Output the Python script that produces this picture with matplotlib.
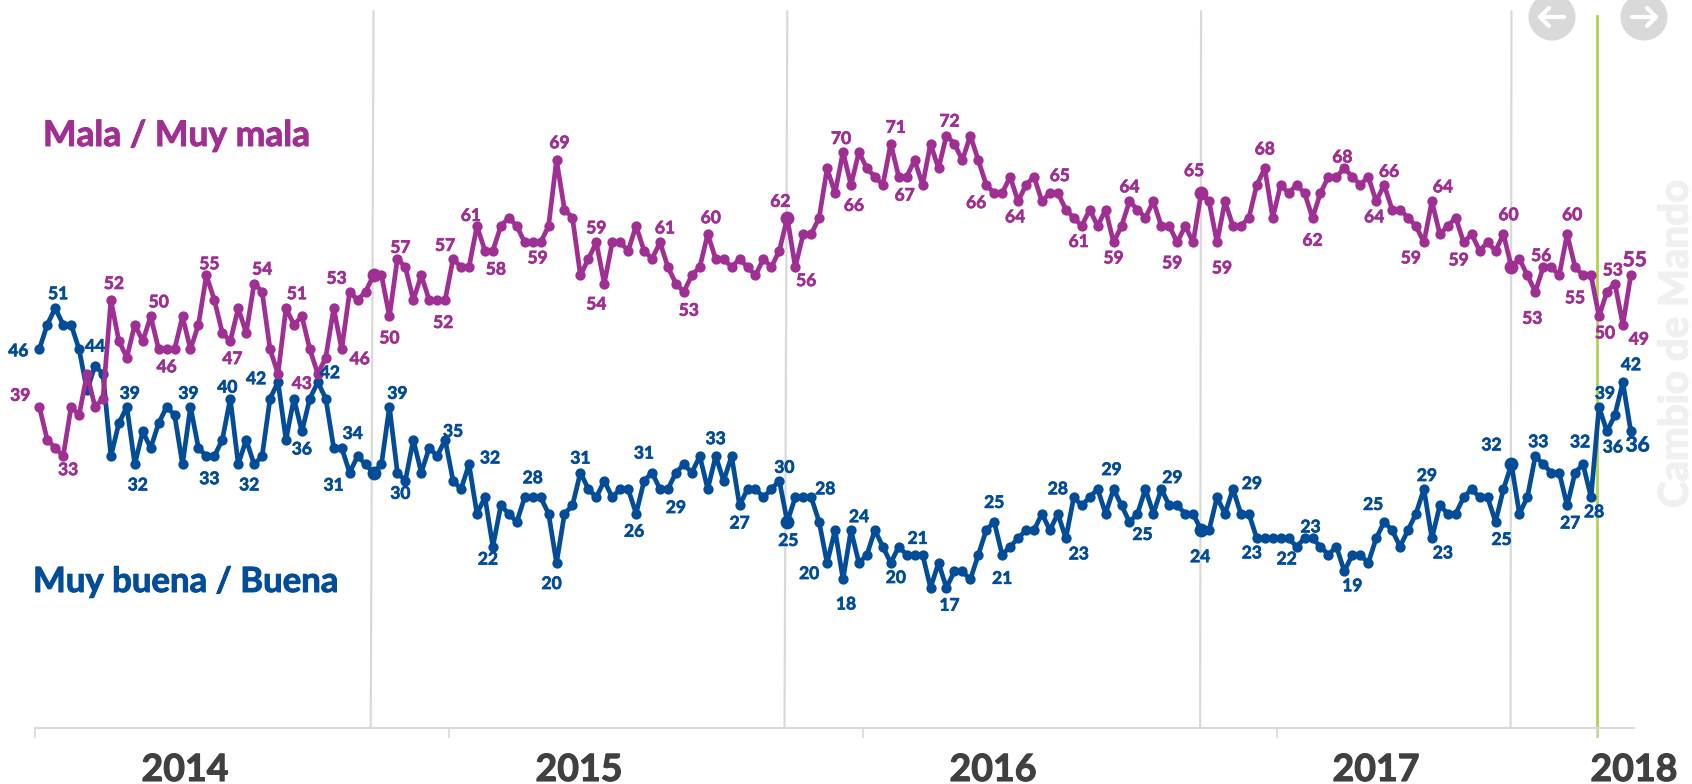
import matplotlib
matplotlib.use('Agg')
import matplotlib.pyplot as plt
import matplotlib.patheffects as pe
from matplotlib.patches import Circle

plt.rcParams['font.family'] = ['Lato', 'DejaVu Sans']

# Weekly values
mala = [39, 35, 34, 33, 39, 38, 43, 39, 40, 52, 47, 45, 49, 47, 50, 46, 46, 46, 50, 46,
        49, 55, 52, 48, 47, 51, 48, 54, 53, 46, 43, 51, 49, 50, 46, 43, 45, 51, 46, 53,
        52, 53, 55, 55, 50, 57, 56, 52, 55, 52, 52, 52, 57, 56, 56, 61, 58, 58, 61, 62,
        61, 59, 59, 59, 61, 69, 63, 62, 55, 57, 59, 54, 59, 59, 58, 61, 58, 57, 59, 56,
        54, 53, 55, 56, 60, 57, 57, 56, 57, 56, 55, 57, 56, 58, 62, 56, 60, 60, 62, 68,
        65, 70, 66, 70, 68, 67, 66, 71, 67, 67, 69, 66, 71, 68, 72, 71, 69, 72, 69, 66,
        65, 65, 67, 64, 66, 67, 64, 65, 65, 63, 62, 61, 63, 61, 63, 59, 61, 64, 63, 62,
        64, 61, 61, 59, 61, 59, 65, 64, 59, 64, 61, 61, 62, 66, 68, 62, 66, 65, 66, 65,
        62, 65, 67, 67, 68, 67, 66, 67, 64, 66, 63, 63, 62, 61, 59, 64, 60, 61, 62, 59,
        60, 58, 59, 58, 60, 56, 57, 55, 53, 56, 56, 55, 60, 56, 55, 55, 50, 53, 54, 49, 55]

buena = [46, 49, 51, 49, 49, 46, 41, 44, 43, 33, 37, 39, 32, 36, 34, 37, 39, 38, 32, 39,
         34, 33, 33, 35, 40, 32, 35, 32, 33, 40, 42, 35, 40, 36, 40, 42, 40, 34, 34, 31,
         33, 32, 31, 32, 39, 31, 30, 35, 31, 34, 33, 35, 30, 29, 32, 26, 28, 22, 27, 26,
         25, 28, 28, 28, 26, 20, 26, 27, 31, 29, 28, 30, 28, 29, 29, 26, 30, 31, 29, 29,
         31, 32, 31, 33, 29, 33, 30, 33, 27, 29, 29, 28, 29, 30, 25, 28, 28, 28, 25, 20,
         24, 18, 24, 20, 21, 24, 22, 20, 22, 21, 21, 21, 17, 20, 17, 19, 19, 18, 21, 24,
         25, 21, 22, 23, 24, 24, 26, 24, 26, 23, 28, 27, 28, 29, 26, 29, 27, 25, 26, 29,
         26, 29, 27, 27, 26, 26, 24, 24, 28, 26, 29, 26, 26, 23, 23, 23, 23, 23, 22, 23,
         23, 22, 21, 22, 19, 21, 21, 20, 23, 25, 24, 22, 24, 26, 29, 23, 27, 26, 26, 28,
         29, 28, 28, 25, 29, 32, 26, 28, 33, 32, 31, 31, 27, 31, 32, 28, 39, 36, 38, 42, 36]

# Bigger markers and the grey lines sit on these weeks
year_marks = [42, 94, 146, 185]
current_week = 195.8

year_ticks = [-0.54, 51.5, 103.5, 155.5]
years = ['2014', '2015', '2016', '2017', '2018']

# Printed labels: week, text
mala_labels = [(0, '39'), (3, '33'), (9, '52'), (14, '50'), (16, '46'), (21, '55'), (24, '47'),
               (27, '54'), (31, '51'), (35, '43'), (39, '53'), (38, '46'), (44, '50'), (45, '57'),
               (50, '52'), (52, '57'), (55, '61'), (57, '58'), (62, '59'), (65, '69'), (70, '59'),
               (71, '54'), (78, '61'), (81, '53'), (84, '60'), (94, '62'), (95, '56'), (101, '70'),
               (102, '66'), (107, '71'), (109, '67'), (114, '72'), (120, '66'), (123, '64'),
               (128, '65'), (131, '61'), (135, '59'), (137, '64'), (143, '59'), (146, '65'),
               (148, '59'), (154, '68'), (160, '62'), (164, '68'), (168, '64'), (169, '66'),
               (174, '59'), (175, '64'), (179, '59'), (184, '60'), (188, '53'), (189, '56'),
               (192, '60'), (194, '55'), (196, '50'), (198, '53'), (199, '49'), (200, '55')]
buena_labels = [(0, '46'), (2, '51'), (7, '44'), (12, '32'), (11, '39'), (19, '39'), (21, '33'),
                (24, '40'), (27, '32'), (30, '42'), (33, '36'), (35, '42'), (38, '34'), (39, '31'),
                (44, '39'), (46, '30'), (51, '35'), (54, '32'), (57, '22'), (62, '28'), (65, '20'),
                (68, '31'), (75, '26'), (77, '31'), (79, '29'), (85, '33'), (88, '27'), (93, '30'),
                (94, '25'), (99, '20'), (97, '28'), (101, '18'), (102, '24'), (107, '20'),
                (110, '21'), (114, '17'), (120, '25'), (121, '21'), (130, '28'), (129, '23'),
                (135, '29'), (137, '25'), (141, '29'), (146, '24'), (150, '29'), (153, '23'),
                (157, '22'), (160, '23'), (169, '25'), (164, '19'), (174, '29'), (175, '23'),
                (185, '32'), (183, '25'), (188, '33'), (192, '27'), (194, '32'), (195, '28'),
                (196, '39'), (197, '36'), (199, '42'), (200, '36')]

# Label offsets from the point, in pixels (x right, y down)
mala_offsets = [(-19, -12), (5, 13), (3, -17), (8, -15), (0, 17), (3, -12), (2, 17),
                (8, -15), (11, -15), (-16, 9), (-13, -14), (18, 9), (0, 21), (3, -12),
                (6, 22), (-8, -14), (-6, -11), (3, 18), (5, 15), (3, -18), (0, -15),
                (-8, 20), (5, -15), (5, 18), (3, -17), (-7, -17), (11, 13), (-2, -14),
                (3, 20), (5, -17), (-2, 18), (3, -15), (-18, 9), (-3, 15),
                (2, -18), (-3, 15), (0, 15), (0, -15), (-5, 20), (-7, -23),
                (5, 25), (0, -20), (0, 22), (-2, -12), (-2, 15), (5, -14),
                (-13, 15), (11, -15), (-5, 17), (5, -20), (-3, 26), (-2, -12),
                (5, -20), (-8, 22), (6, 16), (-2, -14), (16, 14), (4, -16)]
buena_offsets = [(-21, 1), (3, -15), (0, -20), (3, 20), (3, -14), (-2, -14), (3, 22),
                 (-3, -12), (-5, 20), (-22, -4), (0, 17), (12, -10), (11, -15), (-16, 12),
                 (8, -14), (-5, 12), (8, -9), (21, -7), (-5, 12), (0, -20), (-5, 20),
                 (0, -15), (-2, 17), (-8, -20), (8, 18), (0, -18), (0, 17), (5, -14),
                 (1, 18), (-18, 10), (14, -9), (3, 24), (8, -14), (5, 14),
                 (3, -17), (3, 17), (0, -20), (0, 23), (-16, -9), (13, 15),
                 (-2, -20), (13, 12), (11, -12), (-1, 26), (19, -6), (-5, 14),
                 (-2, 20), (-2, -12), (-11, -18), (8, 14), (3, -14), (11, 14),
                 (-20, -20), (6, 17), (3, -15), (3, 17), (-3, -23), (3, 14),
                 (6, -14), (6, 15), (8, -18), (7, 13)]

purple = '#9F2F92'
blue = '#034C97'
grey = '#D9D9D9'
green = '#B3D152'


def heavier(color, w):
    # Lato bold is a bit lighter than the original face
    return [pe.withStroke(linewidth=w, foreground=color)]


fig = plt.figure(figsize=(16.92, 7.84), dpi=100)
ax = fig.add_axes([35 / 1692, 56 / 784, (1634 - 35) / 1692, 728 / 784])
ax.set_xlim(-0.54, 200.4)
ax.set_ylim(-0.07, 88.49)
ax.patch.set_alpha(0)

for s in ['top', 'left', 'right']:
    ax.spines[s].set_visible(False)
ax.spines['bottom'].set_color(grey)
ax.spines['bottom'].set_linewidth(1.5)
ax.set_yticks([])
ax.set_xticks(year_ticks + [current_week])
ax.set_xticklabels([])
ax.tick_params(axis='x', length=7, width=1.2, color=grey)
ax.get_xticklines()[-2].set_color(green)

# Vertical year marks, they lean a little in the original
for w in year_marks:
    lean = 0.35 if w < 100 else 0.12
    ax.plot([w, w - lean], [87.1, 0], color=grey, lw=1.6, zorder=1, clip_on=False)
ax.plot([current_week, current_week], [86.6, -1.0], color=green, lw=2, zorder=1, clip_on=False)

weeks = list(range(len(mala)))
for values, color in [(buena, blue), (mala, purple)]:
    ax.plot(weeks, values, color=color, lw=3.4, marker='o', ms=7.4, mew=0, zorder=3, clip_on=False)
    ax.plot(year_marks, [values[w] for w in year_marks], ls='', color=color, marker='o', ms=10,
            mew=0, zorder=3, clip_on=False)

for labels, offsets, values, color in [(mala_labels, mala_offsets, mala, purple),
                                       (buena_labels, buena_offsets, buena, blue)]:
    for (w, txt), (dx, dy) in zip(labels, offsets):
        size = 15 if w == 200 else 12.5
        ax.annotate(txt, (w, values[w]), xytext=(dx, -dy - 1), textcoords='offset pixels', color=color,
                    fontsize=size, fontweight='bold', ha='center', va='center', zorder=4,
                    annotation_clip=False, path_effects=heavier(color, 0.5))

# Overlay in pixel coordinates for titles and buttons
over = fig.add_axes([0, 0, 1, 1])
over.set_xlim(0, 1692)
over.set_ylim(784, 0)
over.axis('off')
over.patch.set_alpha(0)

over.text(43, 136, 'Mala / Muy mala', color=purple, fontsize=25.5, fontweight='bold', va='center',
          path_effects=heavier(purple, 0.7))
over.text(33, 582, 'Muy buena / Buena', color=blue, fontsize=25, fontweight='bold', va='center',
          path_effects=heavier(blue, 0.7))

for x, y in zip([185, 579, 993, 1376, 1634], years):
    over.text(x, 781, y, color='#404040', fontsize=27, fontweight='bold', ha='center', va='baseline',
              path_effects=heavier('#404040', 0.8))

over.text(1676, 344, 'Cambio de Mando', color='#F0F0F0', fontsize=29, fontweight='bold',
          rotation=90, ha='center', va='center', zorder=0, path_effects=heavier('#F0F0F0', 1))

# Arrow buttons
for cx, sign in [(1552, -1), (1644, 1)]:
    over.add_patch(Circle((cx, 17), 23.5, color=grey, lw=0, clip_on=True))
    over.plot([cx - 12, cx + 12], [17, 17], color='white', lw=3, solid_capstyle='round')
    over.plot([cx + sign * 3, cx + sign * 12, cx + sign * 3], [8, 17, 26], color='white', lw=3,
              solid_capstyle='round')

fig.savefig('out.png', dpi=100)
